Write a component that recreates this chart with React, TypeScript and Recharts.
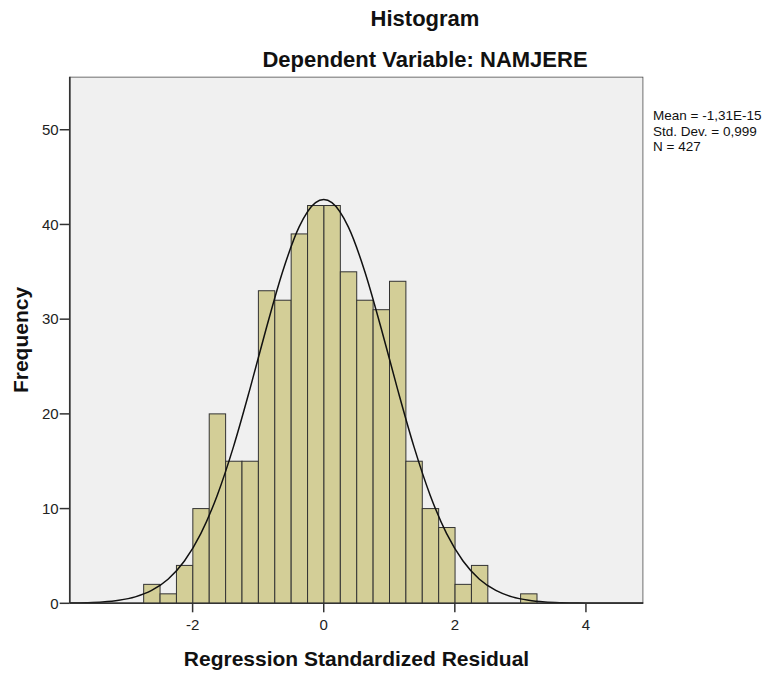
import React from "react";
import { ComposedChart, Bar, Line, XAxis, YAxis, ReferenceArea } from "recharts";

// Histogram bins (centers of 0.25-wide bins) and frequencies
const binCenters = [
  -2.625, -2.375, -2.125, -1.875, -1.625, -1.375, -1.125, -0.875, -0.625, -0.375, -0.125,
  0.125, 0.375, 0.625, 0.875, 1.125, 1.375, 1.625, 1.875, 2.125, 2.375, 2.625, 2.875, 3.125,
];
const binCounts = [
  2, 1, 4, 10, 20, 15, 15, 33, 32, 39, 42,
  42, 35, 32, 31, 34, 15, 10, 8, 2, 4, 0, 0, 1,
];

// Normal curve
const curveX = [
  -3.875, -3.625, -3.375, -3.125, -2.875, -2.625, -2.375, -2.125, -1.875, -1.625, -1.375, -1.125,
  -0.875, -0.625, -0.375, -0.125, 0, 0.125, 0.375, 0.625, 0.875, 1.125, 1.375, 1.625, 1.875,
  2.125, 2.375, 2.625, 2.875, 3.125, 3.375, 3.625, 3.875, 4.125, 4.375, 4.625, 4.875,
];
const curveY = [
  0.02, 0.06, 0.14, 0.32, 0.68, 1.36, 2.54, 4.46, 7.35, 11.39, 16.57, 22.64,
  29.07, 35.07, 39.74, 42.3, 42.63, 42.3, 39.74, 35.07, 29.07, 22.64, 16.57, 11.39, 7.35,
  4.46, 2.54, 1.36, 0.68, 0.32, 0.14, 0.06, 0.02, 0.01, 0, 0, 0,
];

const xTicks = [-2, 0, 2, 4];
const yTicks = [0, 10, 20, 30, 40, 50];
const X_DOMAIN: [number, number] = [-3.875, 4.875];
const Y_MAX = 55.6;
const BIN_WIDTH = 0.25;

const statsLines = ["Mean = -1,31E-15", "Std. Dev. = 0,999", "N = 427"];
const title1 = "Histogram";
const title2 = "Dependent Variable: NAMJERE";
const xLabel = "Regression Standardized Residual";
const yLabel = "Frequency";

// Layout
const W = 775;
const H = 675;
const PLOT_LEFT = 69.7;
const PLOT_RIGHT = 643.3;
const PLOT_TOP = 76.7;
const PLOT_BOTTOM = 603.3;
const PX_PER_UNIT = (PLOT_RIGHT - PLOT_LEFT) / (X_DOMAIN[1] - X_DOMAIN[0]);
const BAR_PX = BIN_WIDTH * PX_PER_UNIT;

const FONT = '"Liberation Sans", Arial, sans-serif';

type Row = { x: number; count?: number | null; curve?: number };

const rowsMap = new Map<number, Row>();
binCenters.forEach((c, i) => {
  rowsMap.set(c, { x: c, count: binCounts[i] });
});
curveX.forEach((c, i) => {
  const r = rowsMap.get(c) || { x: c };
  r.curve = curveY[i];
  rowsMap.set(c, r);
});
const data: Row[] = Array.from(rowsMap.values()).sort((a, b) => a.x - b.x);

const BarShape = (props: any) => {
  const { x, y, width, height, payload } = props;
  if (!payload || !payload.count || !height || height <= 0) return null;
  const cx = x + width / 2;
  return (
    <rect
      x={cx - BAR_PX / 2}
      y={y}
      width={BAR_PX}
      height={height}
      fill="#D3CE97"
      stroke="#333"
      strokeWidth={1}
    />
  );
};

export default function App() {
  return (
    <div style={{ position: "absolute", left: 0, top: 0, width: W, height: H, background: "#fff" }}>
      <ComposedChart
        width={W}
        height={H}
        data={data}
        margin={{ top: PLOT_TOP, right: W - PLOT_RIGHT, bottom: 0, left: 0 }}
      >
        <ReferenceArea
          x1={X_DOMAIN[0]}
          x2={X_DOMAIN[1]}
          y1={0}
          y2={Y_MAX}
          fill="#F0F0F0"
          fillOpacity={1}
          stroke="none"
          ifOverflow="hidden"
        />
        <XAxis
          dataKey="x"
          type="number"
          domain={X_DOMAIN}
          allowDataOverflow
          ticks={xTicks}
          height={H - PLOT_BOTTOM}
          tickSize={9}
          tickMargin={7}
          tick={{ fontSize: 15, fill: "#222", fontFamily: FONT }}
          axisLine={{ stroke: "#333", strokeWidth: 1.5 }}
          tickLine={{ stroke: "#333", strokeWidth: 1.5 }}
        />
        <YAxis
          type="number"
          domain={[0, Y_MAX]}
          allowDataOverflow
          ticks={yTicks}
          width={PLOT_LEFT}
          tickSize={10}
          tickMargin={1}
          tick={{ fontSize: 15, fill: "#222", fontFamily: FONT }}
          axisLine={{ stroke: "#333", strokeWidth: 1.5 }}
          tickLine={{ stroke: "#333", strokeWidth: 1.5 }}
        />
        <Bar dataKey="count" shape={BarShape} isAnimationActive={false} />
        <Line
          dataKey="curve"
          type="monotone"
          stroke="#111"
          strokeWidth={1.5}
          dot={false}
          activeDot={false}
          connectNulls
          isAnimationActive={false}
        />
        <ReferenceArea
          x1={X_DOMAIN[0]}
          x2={X_DOMAIN[1]}
          y1={0}
          y2={Y_MAX}
          fill="none"
          stroke="#444"
          strokeWidth={1.5}
          ifOverflow="hidden"
        />
      </ComposedChart>
      <svg
        width={W}
        height={H}
        style={{ position: "absolute", left: 0, top: 0, pointerEvents: "none" }}
      >
        <text x={425} y={26} textAnchor="middle" fontFamily={FONT} fontWeight="bold" fontSize={22} fill="#111">
          {title1}
        </text>
        <text x={425} y={67} textAnchor="middle" fontFamily={FONT} fontWeight="bold" fontSize={22} fill="#111">
          {title2}
        </text>
        <text
          x={(PLOT_LEFT + PLOT_RIGHT) / 2}
          y={666}
          textAnchor="middle"
          fontFamily={FONT}
          fontWeight="bold"
          fontSize={21}
          fill="#111"
        >
          {xLabel}
        </text>
        <text
          x={27.5}
          y={(PLOT_TOP + PLOT_BOTTOM) / 2}
          textAnchor="middle"
          fontFamily={FONT}
          fontWeight="bold"
          fontSize={21}
          fill="#111"
          transform={`rotate(-90, 27.5, ${(PLOT_TOP + PLOT_BOTTOM) / 2})`}
        >
          {yLabel}
        </text>
        {statsLines.map((s, i) => (
          <text key={s} x={653} y={120 + i * 15.5} fontFamily={FONT} fontSize={13.5} fill="#111">
            {s}
          </text>
        ))}
      </svg>
    </div>
  );
}
